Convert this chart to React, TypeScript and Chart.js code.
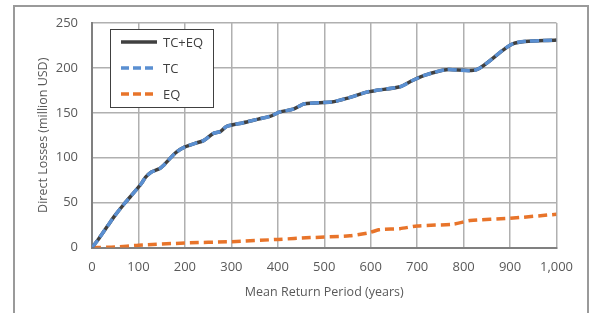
import React, { useEffect, useRef } from "react";
import { Chart, registerables } from "chart.js";

Chart.register(...registerables);

const totalPeriods = [0, 15, 35, 50, 70, 90, 106, 115, 128, 146, 155, 164, 181, 200, 222, 240, 261, 276, 290, 326, 358, 383, 405, 433, 458, 516, 548, 591, 613, 663, 690, 717, 763, 828, 907, 1000];
const totalLosses = [0, 10, 25, 36, 49, 61, 71, 78, 84, 88, 92, 97, 106, 112, 116, 119, 127, 129, 135, 139, 143, 146, 151, 154, 160, 162, 166, 173, 175, 179, 186, 192, 198, 198, 227, 231];
const tcPeriods = [0, 15, 35, 50, 70, 90, 106, 115, 128, 146, 155, 164, 181, 200, 222, 240, 261, 276, 290, 326, 358, 383, 405, 433, 458, 516, 548, 591, 613, 663, 690, 717, 763, 828, 907, 1000];
const tcLosses = [0, 10, 25, 36, 49, 61, 71, 78, 84, 88, 92, 97, 106, 112, 116, 119, 127, 129, 135, 139, 143, 146, 151, 154, 160, 162, 166, 173, 175, 179, 186, 192, 198, 198, 227, 231];
const eqPeriods = [0, 50, 100, 200, 300, 400, 470, 555, 597, 620, 663, 700, 778, 814, 900, 1000];
const eqLosses = [0, 0.5, 2.5, 5, 6.5, 9, 11, 13, 16.5, 20, 21, 24, 26, 30, 32.5, 37];

const seriesNames = ["TC+EQ", "TC", "EQ"];
const yTicks = [0, 50, 100, 150, 200, 250];
const xTicks = [0, 100, 200, 300, 400, 500, 600, 700, 800, 900, 1000];
const xTitle = "Mean Return Period (years)";
const yTitle = "Direct Losses (million USD)";

const FONT = "'Open Sans', 'Noto Sans', sans-serif";
const COLORS = ["#404040", "#5a8fd1", "#e8742a"];

const pairs = (xs: number[], ys: number[]) => xs.map((x, i) => ({ x, y: ys[i] }));

const framePlugin = {
  id: "frameAndLegend",
  afterDraw(chart: any) {
    const ctx = chart.ctx;
    ctx.save();
    ctx.setLineDash([]);
    ctx.strokeStyle = "#9a9a9a";
    ctx.lineWidth = 2;
    ctx.beginPath();
    ctx.moveTo(14, 313);
    ctx.lineTo(14, 6);
    ctx.lineTo(588, 6);
    ctx.lineTo(588, 313);
    ctx.stroke();

    const bx = 110.5, by = 29.5, bw = 103, bh = 78;
    ctx.fillStyle = "#ffffff";
    ctx.fillRect(bx, by, bw, bh);
    ctx.strokeStyle = "#404040";
    ctx.lineWidth = 1;
    ctx.strokeRect(bx, by, bw, bh);
    const dashes = [[], [8, 4], [8, 4]];
    const ys = [42, 68, 94];
    for (let i = 0; i < 3; i++) {
      ctx.beginPath();
      ctx.setLineDash(dashes[i]);
      ctx.strokeStyle = COLORS[i];
      ctx.lineWidth = 3.5;
      ctx.moveTo(121, ys[i]);
      ctx.lineTo(157, ys[i]);
      ctx.stroke();
      ctx.setLineDash([]);
      ctx.fillStyle = "#404040";
      ctx.font = "13px " + FONT;
      ctx.textBaseline = "middle";
      ctx.textAlign = "left";
      ctx.fillText(seriesNames[i], 163, ys[i] + 1);
    }
    ctx.restore();
  },
};

export default function App() {
  const ref = useRef<HTMLCanvasElement>(null);
  useEffect(() => {
    if (!ref.current) return;
    const chart = new Chart(ref.current, {
      type: "line",
      data: {
        datasets: [
          {
            label: seriesNames[1],
            data: pairs(tcPeriods, tcLosses),
            borderColor: COLORS[1],
            borderWidth: 3.5,
            borderDash: [9, 4],
            pointRadius: 0,
            tension: 0.25,
            order: 0,
          },
          {
            label: seriesNames[0],
            data: pairs(totalPeriods, totalLosses),
            borderColor: COLORS[0],
            borderWidth: 3.5,
            pointRadius: 0,
            tension: 0.25,
            order: 1,
          },
          {
            label: seriesNames[2],
            data: pairs(eqPeriods, eqLosses),
            borderColor: COLORS[2],
            borderWidth: 3.5,
            borderDash: [9, 5],
            pointRadius: 0,
            tension: 0.25,
            order: 2,
          },
        ],
      },
      options: {
        animation: false,
        responsive: false,
        maintainAspectRatio: false,
        layout: { padding: { left: 0, top: 23, right: 37.5, bottom: 0 } },
        plugins: { legend: { display: false }, tooltip: { enabled: false } },
        scales: {
          x: {
            type: "linear",
            min: 0,
            max: 1000,
            afterBuildTicks: (s: any) => {
              s.ticks = xTicks.map((v) => ({ value: v }));
            },
            afterFit: (s: any) => {
              s.height = 65.5;
            },
            grid: { color: "#b0b0b0", lineWidth: 1.5, drawTicks: false },
            border: { color: "#808080", width: 2 },
            ticks: { color: "#595959", font: { family: FONT, size: 13 }, padding: 12, maxRotation: 0 },
            title: { display: true, text: xTitle, color: "#595959", font: { family: FONT, size: 12.5 }, padding: { top: 0, bottom: 13 } },
          },
          y: {
            type: "linear",
            min: 0,
            max: 250,
            afterBuildTicks: (s: any) => {
              s.ticks = yTicks.map((v) => ({ value: v }));
            },
            afterFit: (s: any) => {
              s.width = 92;
            },
            grid: { color: "#b0b0b0", lineWidth: 1.5, drawTicks: false },
            border: { color: "#808080", width: 2 },
            ticks: { color: "#595959", font: { family: FONT, size: 13 }, padding: 14 },
            title: { display: true, text: yTitle, color: "#595959", font: { family: FONT, size: 12.5 }, padding: { top: 36, bottom: 0 } },
          },
        },
      },
      plugins: [framePlugin],
    });
    return () => chart.destroy();
  }, []);
  return (
    <div style={{ position: "fixed", left: 0, top: 0, width: 594, height: 313, background: "#fff" }}>
      <canvas ref={ref} width={594} height={313} style={{ width: 594, height: 313, display: "block" }} />
    </div>
  );
}
